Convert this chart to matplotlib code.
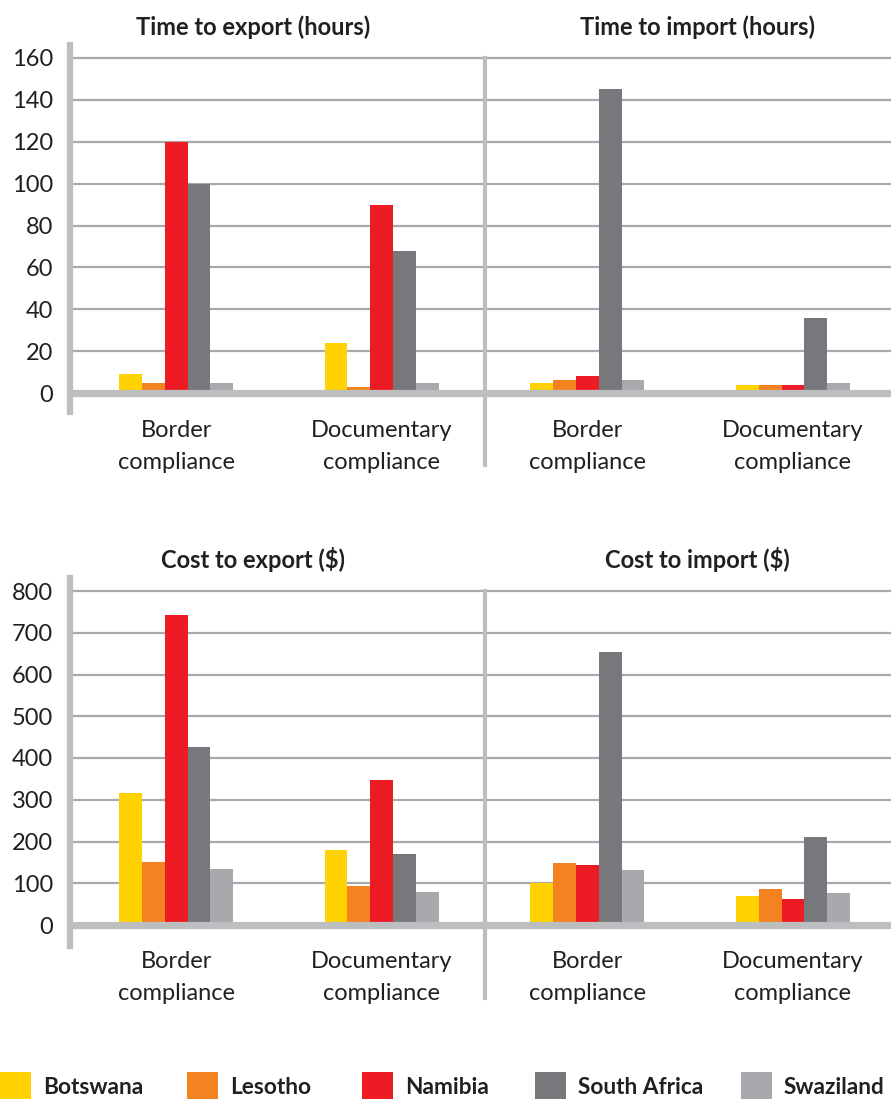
import numpy as np
import matplotlib
matplotlib.use('Agg')
from matplotlib import pyplot as plt
from matplotlib.patches import Rectangle

plt.rcParams['font.family'] = ['Lato', 'DejaVu Sans']

countries = ['Botswana', 'Lesotho', 'Namibia', 'South Africa', 'Swaziland']
colors = ['#FFD200', '#F58220', '#ED1C24', '#77787B', '#A7A9AC']
groups = ['Border\ncompliance', 'Documentary\ncompliance', 'Border\ncompliance', 'Documentary\ncompliance']

# hours, order: Botswana, Lesotho, Namibia, South Africa, Swaziland
time_export_border = [9, 5, 120, 100, 5]
time_export_doc = [24, 3, 90, 68, 5]
time_import_border = [5, 6, 8, 145, 6]
time_import_doc = [4, 4, 4, 36, 5]

# US$
cost_export_border = [316, 150, 743, 426, 134]
cost_export_doc = [180, 94, 347, 170, 79]
cost_import_border = [100, 149, 144, 654, 132]
cost_import_doc = [70, 86, 62, 211, 77]

time_titles = ['Time to export (hours)', 'Time to import (hours)']
cost_titles = ['Cost to export ($)', 'Cost to import ($)']

W, H = 891, 1099
fig = plt.figure(figsize=(W / 100, H / 100), dpi=100)

axis_grey = '#BCBEC0'
grid_grey = '#A7A9AC'
text_col = '#231F20'


#one row = export panel + import panel sharing an axes, split by a divider
def make_row(zero_px, full_px, vmax, step, bar_top_px, bar_bot_px, div_bot_px, series, titles, title_y):
	ppu = (zero_px - full_px) / vmax
	ymin = -(bar_bot_px - zero_px) / ppu
	ymax = vmax + (full_px - bar_top_px) / ppu
	left = 70 / W
	ax = fig.add_axes([left, 1 - bar_bot_px / H, 1 - left, (bar_bot_px - bar_top_px) / H])
	ax.set_ylim(ymin, ymax)
	ax.set_xlim(-0.516, 3.477)
	width = 0.111
	x = np.arange(4)
	for i in range(5):
		vals = [s[i] for s in series]
		ax.bar(x + (i - 2) * width, vals, width, color=colors[i], zorder=2, linewidth=0)
	for v in np.arange(step, vmax + 1, step):
		ax.axhline(v, color=grid_grey, lw=1.6, zorder=1)
	ax.axhline(0, color=axis_grey, lw=5.2, zorder=3)
	ax.plot([1.5, 1.5], [vmax, -(div_bot_px - zero_px) / ppu], color=axis_grey, lw=3, clip_on=False, zorder=3)
	for s in ['top', 'right', 'bottom']:
		ax.spines[s].set_visible(False)
	ax.spines['left'].set_color(axis_grey)
	ax.spines['left'].set_linewidth(4.5)
	ax.set_yticks(np.arange(0, vmax + 1, step))
	ax.tick_params(axis='y', length=0, pad=12, labelsize=17, labelcolor=text_col)
	ax.set_xticks([])
	for xi, g in zip(x, groups):
		l1, l2 = g.split('\n')
		ax.text(xi, -37 / ppu, l1, ha='center', va='center', fontsize=17, color=text_col, clip_on=False)
		ax.text(xi, -69 / ppu, l2, ha='center', va='center', fontsize=17, color=text_col, clip_on=False)
	fig.text(253 / W, 1 - title_y / H, titles[0], ha='center', va='center', fontsize=17,
		fontweight='bold', color=text_col)
	fig.text(697 / W, 1 - title_y / H, titles[1], ha='center', va='center', fontsize=17,
		fontweight='bold', color=text_col)
	return ax


make_row(393, 58, 160, 20, 45, 412, 465,
	[time_export_border, time_export_doc, time_import_border, time_import_doc], time_titles, 27)
make_row(925, 591, 800, 100, 578, 946, 998,
	[cost_export_border, cost_export_doc, cost_import_border, cost_import_doc], cost_titles, 560)

#legend along the bottom edge
leg_x = [0, 187, 362, 535, 741]
for lx, c, name in zip(leg_x, colors, countries):
	fig.add_artist(Rectangle((lx / W, 0), 31 / W, 27 / H, transform=fig.transFigure,
		facecolor=c, edgecolor='none'))
	fig.text((lx + 43) / W, 1 - 1087 / H, name, ha='left', va='center', fontsize=16.3,
		fontweight='bold', color=text_col)

fig.savefig('out.png', dpi=100)
